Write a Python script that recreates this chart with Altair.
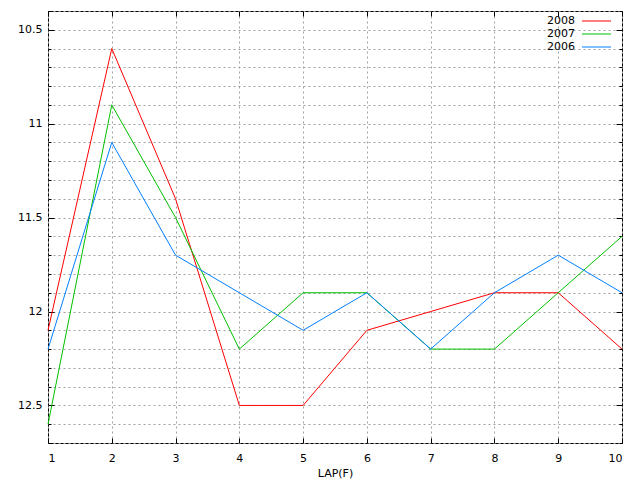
import altair as alt
import pandas as pd

laps = [1, 2, 3, 4, 5, 6, 7, 8, 9, 10]
t2008 = [12.1, 10.6, 11.4, 12.5, 12.5, 12.1, 12.0, 11.9, 11.9, 12.2]
t2007 = [12.6, 10.9, 11.5, 12.2, 11.9, 11.9, 12.2, 12.2, 11.9, 11.6]
t2006 = [12.2, 11.1, 11.7, 11.9, 12.1, 11.9, 12.2, 11.9, 11.7, 11.9]
years = ["2008", "2007", "2006"]
colors = ["#ff0000", "#00c000", "#0080ff"]
y_ticks = [10.4, 10.5, 10.6, 10.7, 10.8, 10.9, 11.0, 11.1, 11.2, 11.3, 11.4, 11.5,
           11.6, 11.7, 11.8, 11.9, 12.0, 12.1, 12.2, 12.3, 12.4, 12.5, 12.6, 12.7]
x_ticks = laps

rows = []
for yr, vals in zip(years, [t2008, t2007, t2006]):
    for lap, v in zip(laps, vals):
        rows.append({"year": yr, "lap": lap, "time": v})
df = pd.DataFrame(rows)
legend_df = pd.DataFrame({"year": years})

W, H = 574, 432
FONT = "DejaVu Sans"
major_test = "abs(datum.value*2 - round(datum.value*2)) < 0.001"

xscale = alt.Scale(domain=[1, 10], nice=False, zero=False)
yscale = alt.Scale(domain=[10.4, 12.7], reverse=True, nice=False, zero=False)
cscale = alt.Scale(domain=years, range=colors)

main_x = alt.Axis(values=x_ticks, grid=True, gridColor="#a0a0a0", gridDash=[2, 3],
                  gridWidth=1, ticks=False, domain=False, labelPadding=9,
                  labelFont=FONT, labelFontSize=11, labelColor="black",
                  title="LAP(F)", titleFont=FONT, titleFontSize=11,
                  titleFontWeight="normal", titleColor="black", titlePadding=4)
main_y = alt.Axis(values=y_ticks, grid=True, gridColor="#a0a0a0", gridDash=[2, 3],
                  gridWidth=1, ticks=False, domain=False, labelPadding=6,
                  format="~g",
                  labelExpr=major_test + " ? datum.label : ''",
                  labelFont=FONT, labelFontSize=11, labelColor="black", title=None)

lines = alt.Chart(df).mark_line(strokeWidth=1).encode(
    x=alt.X("lap:Q", scale=xscale, axis=main_x),
    y=alt.Y("time:Q", scale=yscale, axis=main_y),
    color=alt.Color("year:N", scale=cscale, legend=None),
    order=alt.Order("lap:Q"),
)

def tick_axis(orient, offset, vals, major, minor):
    return alt.Axis(orient=orient, offset=offset, values=vals, labels=False,
                    domain=False, grid=False, ticks=True, tickColor="black",
                    tickWidth=1, title=None,
                    tickSize={"condition": {"test": major_test, "value": major},
                              "value": minor})

ticks_a = alt.Chart(df).mark_line(opacity=0).encode(
    x=alt.X("lap:Q", scale=xscale, axis=tick_axis("top", -H, x_ticks, 5, 5)),
    y=alt.Y("time:Q", scale=yscale, axis=tick_axis("right", -W, y_ticks, 6, 3)),
    detail="year:N",
)
ticks_b = alt.Chart(df).mark_line(opacity=0).encode(
    x=alt.X("lap:Q", scale=xscale, axis=tick_axis("bottom", -H, x_ticks, 5, 5)),
    y=alt.Y("time:Q", scale=yscale, axis=tick_axis("left", -W, y_ticks, 6, 3)),
    detail="year:N",
)

leg_y = alt.Y("year:N", sort=years,
              scale=alt.Scale(type="point", domain=years, range=[10, 36], padding=0),
              axis=None)
leg_text = alt.Chart(legend_df).mark_text(
    align="right", baseline="middle", font=FONT, fontSize=11, color="black"
).encode(x=alt.value(527), y=leg_y, text="year:N")
leg_rule = alt.Chart(legend_df).mark_rule(strokeWidth=1).encode(
    x=alt.value(534), x2=alt.value(563), y=leg_y,
    color=alt.Color("year:N", scale=cscale, legend=None),
)

chart = alt.layer(lines, ticks_a, ticks_b, leg_text, leg_rule).resolve_scale(
    y="independent"
).resolve_axis(x="independent", y="independent").properties(
    width=W, height=H,
    autosize=alt.AutoSizeParams(type="none"),
    padding={"left": 40, "top": 3, "right": 10, "bottom": 37},
    background="white",
).configure_view(stroke="black", strokeWidth=1)

chart.save("out.html", embed_options={"renderer": "svg", "actions": False})
